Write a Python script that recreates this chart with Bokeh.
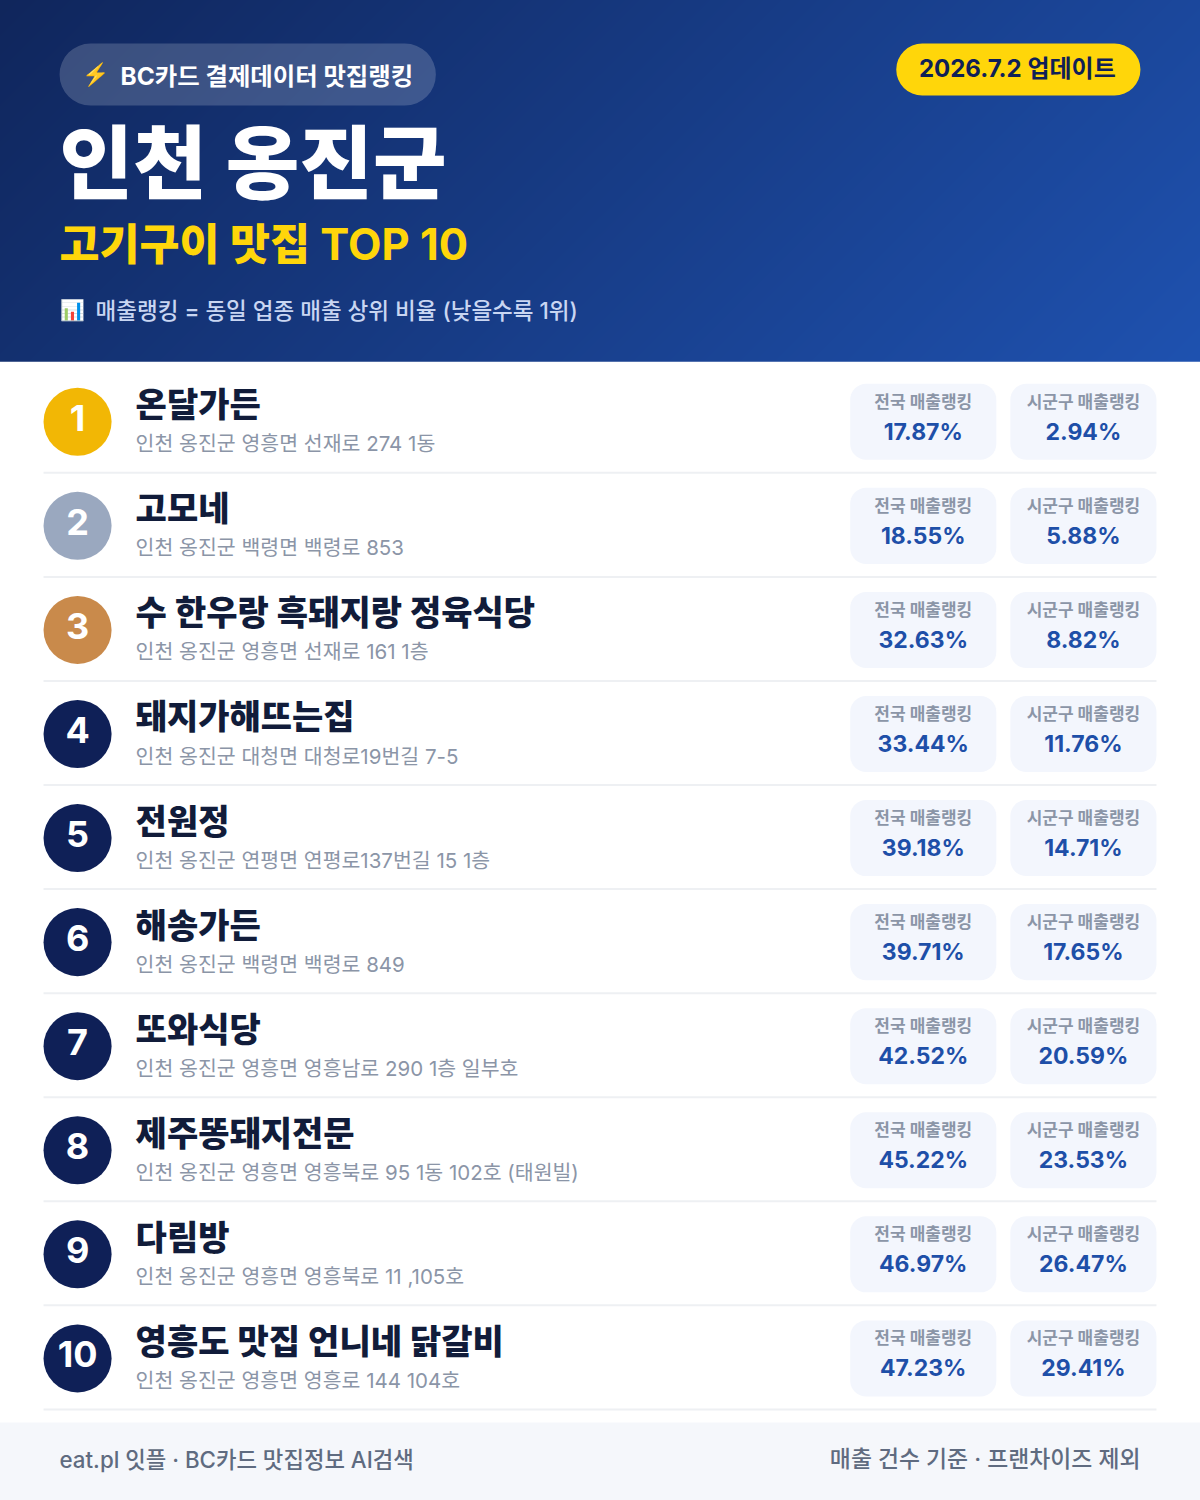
import numpy as np
from bokeh.plotting import figure
from bokeh.core.properties import value
from bokeh.embed import file_html
from bokeh.resources import INLINE

# 표 데이터
ranks = ["1", "2", "3", "4", "5", "6", "7", "8", "9", "10"]
names = ["온달가든", "고모네", "수 한우랑 흑돼지랑 정육식당", "돼지가해뜨는집", "전원정",
         "해송가든", "또와식당", "제주똥돼지전문", "다림방", "영흥도 맛집 언니네 닭갈비"]
addresses = ["인천 옹진군 영흥면 선재로 274 1동",
             "인천 옹진군 백령면 백령로 853",
             "인천 옹진군 영흥면 선재로 161 1층",
             "인천 옹진군 대청면 대청로19번길 7-5",
             "인천 옹진군 연평면 연평로137번길 15 1층",
             "인천 옹진군 백령면 백령로 849",
             "인천 옹진군 영흥면 영흥남로 290 1층 일부호",
             "인천 옹진군 영흥면 영흥북로 95 1동 102호 (태원빌)",
             "인천 옹진군 영흥면 영흥북로 11 ,105호",
             "인천 옹진군 영흥면 영흥로 144 104호"]
national = [17.87, 18.55, 32.63, 33.44, 39.18, 39.71, 42.52, 45.22, 46.97, 47.23]
district = [2.94, 5.88, 8.82, 11.76, 14.71, 17.65, 20.59, 23.53, 26.47, 29.41]
badge_colors = ["#f2b705", "#9aa8bf", "#c98a4b"] + ["#0f2057"] * 7

FONT = value("Inter, Noto Sans CJK KR")
BLACK = value("Inter, Noto Sans CJK KR Black")
MEDIUM = value("Inter Medium, Noto Sans CJK KR Medium")
EMOJI = value("Noto Color Emoji")

row_h = 104
row_y = np.arange(10) * row_h + 422  # 원 중심
W, H, HEAD = 1200, 1500, 362

# 프레임이 1px 작아서 한 칸 크게 그리고 -1px 로 붙임
p = figure(width=W + 1, height=H + 1, x_range=(0, W), y_range=(H, 0), tools="",
           toolbar_location=None, output_backend="svg", min_border=0,
           outline_line_color=None, background_fill_color="white",
           x_axis_location=None, y_axis_location=None)
p.grid.visible = False
p.styles = {"position": "absolute", "left": "-1px", "top": "-1px"}

# 헤더 그라데이션 (135deg)
xx, yy = np.meshgrid(np.arange(W) + .5, np.arange(HEAD) + .5)
t = (xx + yy - (W + HEAD) / 2) / (W + HEAD) + .5
c0, c1 = np.array([0x10, 0x26, 0x5c]), np.array([0x1f, 0x52, 0xb0])
img = np.zeros((HEAD, W), dtype=np.uint32)
view = img.view(dtype=np.uint8).reshape((HEAD, W, 4))
for k in range(3):
    view[:, :, k] = (c0[k] + (c1[k] - c0[k]) * t).astype(np.uint8)
view[:, :, 3] = 255
p.image_rgba(image=[img], x=0, y=0, dw=W, dh=HEAD)

# 상단 배지
p.quad(left=[60], right=[436], top=[44], bottom=[106], fill_color="white", fill_alpha=.18,
       line_color=None, border_radius=31)
p.quad(left=[896], right=[1140], top=[44], bottom=[96], fill_color="#ffd60a",
       line_color=None, border_radius=26)

def label(x, y, text, size, color, font=FONT, style="normal", align="left"):
    p.text(x=[x], y=[y], text=[text], text_font=font, text_font_style=style,
           text_font_size=f"{size}px", text_color=color, text_align=align,
           text_baseline="alphabetic")

label(83, 75, "⚡", 22, "#ffd60a", font=EMOJI)
label(121, 76, "BC카드 결제데이터 맛집랭킹", 24.4, "white", style="bold")
label(1017, 68.5, "2026.7.2 업데이트", 24, "#0f2057", style="bold", align="center")
label(60, 163, "인천 옹진군", 80, "white", font=BLACK, style="bold")
label(60, 244, "고기구이 맛집 TOP 10", 43.5, "#ffd60a", font=BLACK, style="bold")
label(61, 310, "📊", 20, "white", font=EMOJI)
label(96, 311, "매출랭킹 = 동일 업종 매출 상위 비율 (낮을수록 1위)", 22.5, "#c9d6f2", font=MEDIUM)

# 행
p.circle(x=[78] * 10, y=row_y, radius=34, fill_color=badge_colors, line_color=None)
p.text(x=[78] * 10, y=row_y - 4, text=ranks, text_font=FONT, text_font_style="bold",
       text_font_size="36px", text_color="white", text_align="center", text_baseline="alphabetic")
p.text(x=[136] * 10, y=row_y - 17, text=names, text_font=BLACK, text_font_style="bold",
       text_font_size="34px", text_color="#111c3a", text_baseline="alphabetic")
p.text(x=[136] * 10, y=row_y + 22, text=addresses, text_font=FONT,
       text_font_size="20.5px", text_color="#8b95a7", text_baseline="alphabetic")
p.segment(x0=[44] * 10, x1=[1156] * 10, y0=row_y + 51, y1=row_y + 51, line_color="#eef0f3", line_width=2)

# 랭킹 카드
for left, head, vals in [(850, "전국 매출랭킹", national), (1010, "시군구 매출랭킹", district)]:
    p.quad(left=[left] * 10, right=[left + 146] * 10, top=row_y - 38, bottom=row_y + 38,
           fill_color="#f3f6fd", line_color=None, border_radius=16)
    p.text(x=[left + 73] * 10, y=row_y - 20, text=[head] * 10, text_font=FONT, text_font_style="bold",
           text_font_size="17px", text_color="#8b95a7", text_align="center", text_baseline="alphabetic")
    p.text(x=[left + 73] * 10, y=row_y + 10, text=[f"{v:.2f}%" for v in vals], text_font=FONT,
           text_font_style="bold", text_font_size="23px", text_color="#1e4fa8", text_align="center",
           text_baseline="alphabetic")

# 푸터
p.quad(left=[0], right=[W], top=[1422], bottom=[H], fill_color="#f5f7fb", line_color=None)
label(60, 1459, "eat.pl 잇플 · BC카드 맛집정보 AI검색", 22.3, "#5f6b80", font=MEDIUM)
label(1140, 1459, "매출 건수 기준 · 프랜차이즈 제외", 22.85, "#5f6b80", font=MEDIUM, align="right")

open("out.html", "w").write(file_html(p, INLINE))
